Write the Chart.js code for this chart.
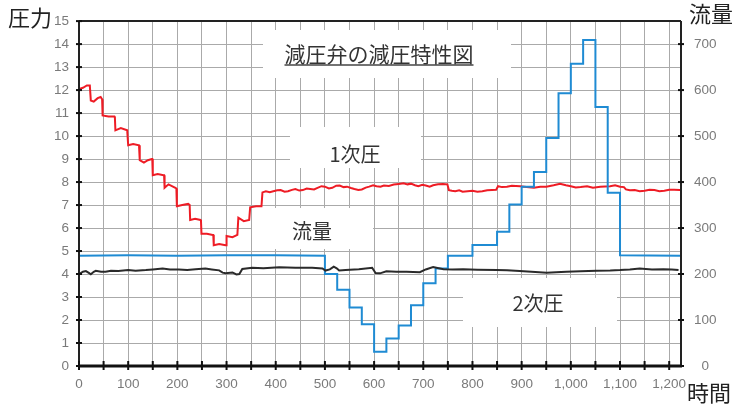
<!DOCTYPE html>
<html><head><meta charset="utf-8">
<script src="https://cdn.jsdelivr.net/npm/chart.js@4/dist/chart.umd.min.js"></script>
<style>html,body{margin:0;padding:0;background:#fff;}#wrap{width:732px;height:409px;position:relative;}</style>
</head><body><div id="wrap"><canvas id="c" width="732" height="409"></canvas></div>
<script>
// ---- data ----
const p1Time  = [0,8,16,22,24,30,38,44,47,48,60,72,73,74,85,98,100,110,122,123,124,132,140,148,149,150,160,172,173,174,182,196,198,199,210,222,225,226,236,247,248,249,260,272,273,274,285,298,299,300,312,322,323,324,335,346,347,348,360,371,372,373,380,388,395,403,410,418,425,433,440,448,455,463,470,478,485,493,500,508,515,523,530,538,545,553,560,568,575,583,590,598,605,613,620,630,640,650,660,668,675,683,690,698,705,713,720,730,740,749,752,758,765,773,780,790,800,810,820,830,840,848,852,860,870,880,897,910,925,938,950,965,978,990,1000,1010,1020,1033,1045,1060,1080,1090,1100,1108,1112,1120,1130,1140,1150,1160,1170,1180,1190,1200,1210,1222];
const p1Value = [12.05,12.1,12.2,12.2,11.55,11.5,11.65,11.7,11.6,10.9,10.85,10.85,10.8,10.25,10.35,10.25,9.6,9.65,9.6,9.6,8.95,8.85,8.95,9.0,9.0,8.3,8.35,8.3,8.3,7.75,7.9,7.75,7.72,6.95,7.0,7.05,7.0,6.35,6.4,6.35,6.32,5.75,5.75,5.7,5.7,5.25,5.3,5.25,5.25,5.65,5.6,5.7,5.7,6.45,6.3,6.35,6.35,6.9,6.95,6.95,6.95,7.55,7.6,7.56,7.6,7.64,7.65,7.58,7.6,7.66,7.7,7.63,7.65,7.72,7.7,7.68,7.75,7.82,7.8,7.72,7.75,7.84,7.85,7.78,7.8,7.74,7.7,7.66,7.68,7.76,7.8,7.86,7.82,7.8,7.85,7.83,7.89,7.92,7.95,7.9,7.93,7.86,7.82,7.88,7.85,7.8,7.86,7.9,7.92,7.9,7.65,7.62,7.6,7.64,7.58,7.6,7.62,7.58,7.6,7.64,7.65,7.66,7.82,7.78,7.8,7.84,7.82,7.78,7.75,7.8,7.8,7.86,7.92,7.86,7.82,7.76,7.78,7.82,7.75,7.8,7.82,7.86,7.8,7.78,7.68,7.64,7.65,7.6,7.62,7.66,7.65,7.6,7.62,7.66,7.66,7.65];

const p2Time  = [0,8,14,20,24,30,34,45,54,65,80,100,115,136,150,170,185,203,220,237,257,270,285,292,298,312,320,326,332,352,375,407,440,474,495,501,510,518,524,529,542,569,596,603,612,625,645,666,693,705,720,741,760,781,810,849,870,896,920,951,970,991,1020,1052,1080,1100,1120,1140,1165,1188,1205,1219];
const p2Value = [3.99,4.1,4.13,4.05,3.99,4.1,4.14,4.1,4.1,4.14,4.13,4.17,4.14,4.17,4.2,4.24,4.2,4.2,4.18,4.21,4.24,4.2,4.16,4.06,4.03,4.07,3.98,4.0,4.22,4.27,4.25,4.3,4.27,4.27,4.24,4.15,4.2,4.32,4.25,4.15,4.17,4.21,4.27,4.04,4.03,4.12,4.1,4.1,4.08,4.2,4.3,4.21,4.2,4.21,4.19,4.17,4.16,4.13,4.1,4.06,4.08,4.1,4.12,4.14,4.15,4.17,4.2,4.24,4.2,4.21,4.2,4.17];

const flowTime  = [0,100,200,300,400,500,500,525,525,550,550,575,575,600,600,625,625,650,650,675,675,700,700,725,725,750,750,800,800,850,850,875,875,900,900,925,925,950,950,975,975,1000,1000,1025,1025,1050,1050,1075,1075,1100,1100,1222];
const flowValue = [240,241,240,241,241,240,200,200,166,166,127,127,91,91,31,31,60,60,88,88,132,132,180,180,212,212,240,240,263,263,292,292,351,351,390,390,422,422,496,496,593,593,657,657,709,709,563,563,377,377,241,240];

const timeMax = 1224;
const timeTicks = [0,50,100,150,200,250,300,350,400,450,500,550,600,650,700,750,800,850,900,950,1000,1050,1100,1150,1200];
const pressureTicks = [0,1,2,3,4,5,6,7,8,9,10,11,12,13,14,15];
const flowTicks = [0,100,200,300,400,500,600,700];

const labels = [
  {text:'減圧弁の減圧特性図', box:[263,30,511,78], cx:379, cy:54, size:21, underline:true},
  {text:'1次圧', box:[290,127,421,168], cx:355, cy:154, size:20},
  {text:'流量', box:[252,208,373,249], cx:312, cy:231, size:20},
  {text:'2次圧', box:[463,278,617,327], cx:538, cy:303, size:20}
];

const zip = (xs, ys) => xs.map((x,i)=>({x:x, y:ys[i]}));
const FONT = '"Liberation Sans", Arial, sans-serif';
const CJK = '"Noto Sans CJK JP", sans-serif';

const boxPlugin = {
  id:'boxes',
  beforeDatasetsDraw(chart){
    const ctx = chart.ctx;
    ctx.save();
    labels.forEach(l=>{
      ctx.fillStyle='#fff';
      ctx.fillRect(l.box[0], l.box[1], l.box[2]-l.box[0], l.box[3]-l.box[1]);
      ctx.fillStyle='#333';
      ctx.font = `${l.size}px ${CJK}`;
      ctx.textAlign='center'; ctx.textBaseline='middle';
      ctx.fillText(l.text, l.cx, l.cy);
      if(l.underline){
        const w = ctx.measureText(l.text).width;
        ctx.strokeStyle='#444'; ctx.lineWidth=1.5;
        ctx.beginPath(); ctx.moveTo(l.cx-w/2, l.cy+11); ctx.lineTo(l.cx+w/2, l.cy+11); ctx.stroke();
      }
    });
    ctx.restore();
  }
};

const axisPlugin = {
  id:'axes',
  afterDraw(chart){
    const ctx = chart.ctx, a = chart.chartArea;
    const x = chart.scales.x, yl = chart.scales.y, yr = chart.scales.y2;
    ctx.save();
    ctx.strokeStyle='#222';
    ctx.lineWidth=2;
    ctx.beginPath(); ctx.moveTo(a.left, a.top); ctx.lineTo(a.right, a.top); ctx.stroke();
    ctx.beginPath(); ctx.moveTo(a.left, a.top); ctx.lineTo(a.left, a.bottom); ctx.stroke();
    ctx.beginPath(); ctx.moveTo(a.right, a.top); ctx.lineTo(a.right, a.bottom); ctx.stroke();
    ctx.strokeStyle='#111';
    ctx.lineWidth=3;
    ctx.beginPath(); ctx.moveTo(a.left-1, a.bottom); ctx.lineTo(a.right+1, a.bottom); ctx.stroke();
    ctx.lineWidth=2;
    pressureTicks.forEach(v=>{ const y=yl.getPixelForValue(v); ctx.beginPath(); ctx.moveTo(a.left-3,y); ctx.lineTo(a.left+3,y); ctx.stroke(); });
    flowTicks.forEach(v=>{ const y=yr.getPixelForValue(v); ctx.beginPath(); ctx.moveTo(a.right-3,y); ctx.lineTo(a.right+3,y); ctx.stroke(); });
    timeTicks.forEach(t=>{ const px=x.getPixelForValue(t); ctx.beginPath(); ctx.moveTo(px,a.bottom-5); ctx.lineTo(px,a.bottom+4); ctx.stroke(); });
    ctx.fillStyle='#222';
    ctx.font=`22px ${CJK}`;
    ctx.textAlign='center'; ctx.textBaseline='middle';
    ctx.fillText('圧力', 30, 18);
    ctx.fillText('流量', 711, 14);
    ctx.fillText('時間', 709, 393);
    ctx.restore();
  }
};

Chart.defaults.font.family = FONT;

new Chart(document.getElementById('c'), {
  type:'line',
  data:{
    datasets:[
      {label:'2次圧', data:zip(p2Time,p2Value), yAxisID:'y', borderColor:'#2a2a2a', borderWidth:2, pointRadius:0, tension:0, order:1},
      {label:'流量', data:zip(flowTime,flowValue), yAxisID:'y2', borderColor:'#1f8bd3', borderWidth:2, pointRadius:0, tension:0, order:2},
      {label:'1次圧', data:zip(p1Time,p1Value), yAxisID:'y', borderColor:'#ee1c25', borderWidth:2, pointRadius:0, tension:0, order:3}
    ]
  },
  options:{
    responsive:false, animation:false, devicePixelRatio:1,
    layout:{padding:{top:15,left:0,right:0,bottom:0}},
    plugins:{legend:{display:false}, tooltip:{enabled:false}},
    scales:{
      x:{type:'linear', min:0, max:timeMax,
        afterFit(s){ s.height=43; },
        afterBuildTicks(s){ s.ticks = timeTicks.map(v=>({value:v})); },
        grid:{color:'#aaaaaa', lineWidth:1, drawTicks:false},
        border:{display:false},
        ticks:{autoSkip:false, maxRotation:0, padding:10, color:'#7a7a7a', font:{size:13.5},
          callback:(v)=> (v%100===0) ? v.toLocaleString('en-US') : ''}
      },
      y:{position:'left', min:0, max:15,
        afterFit(s){ s.width=79; },
        afterBuildTicks(s){ s.ticks = pressureTicks.map(v=>({value:v})); },
        grid:{color:'#aaaaaa', lineWidth:1, drawTicks:false},
        border:{display:false},
        ticks:{padding:10, color:'#7a7a7a', font:{size:13.5}}
      },
      y2:{position:'right', min:0, max:750,
        afterFit(s){ s.width=51; },
        afterBuildTicks(s){ s.ticks = flowTicks.map(v=>({value:v})); },
        grid:{display:false, drawTicks:false},
        border:{display:false},
        ticks:{padding:13, crossAlign:'center', color:'#7a7a7a', font:{size:13.5}}
      }
    }
  },
  plugins:[boxPlugin, axisPlugin]
});
</script></body></html>
